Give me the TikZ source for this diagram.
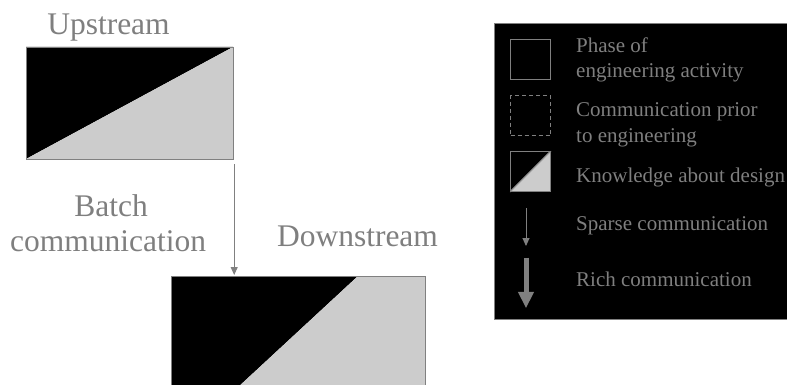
\documentclass[tikz,border=0pt]{standalone}
\usepackage{fontspec}
\setmainfont{Liberation Serif}
\usetikzlibrary{arrows.meta}
\definecolor{txtgray}{HTML}{7F7F7F}
\definecolor{edgegray}{HTML}{808080}
\definecolor{lightfill}{HTML}{CCCCCC}
\tikzset{
  bigtext/.style={text=txtgray, font=\fontsize{31.5}{36}\selectfont, inner sep=0pt, anchor=base},
  legtext/.style={text=txtgray, font=\fontsize{21}{25}\selectfont, inner sep=0pt, anchor=base west},
  boxedge/.style={draw=edgegray, line width=1.2pt},
  sparsearrow/.style={draw=edgegray, line width=0.9pt, -{Triangle[length=8pt,width=7pt]}, color=edgegray},
  richarrow/.style={draw=edgegray, line width=5pt, -{Triangle[length=16.5pt,width=15pt]}, color=edgegray},
}
\begin{document}
\begin{tikzpicture}[x=1pt,y=-1pt]
\useasboundingbox (0,0) rectangle (787,385);
\clip (0,0) rectangle (787,385);
% Upstream phase
\fill[black] (26,47) -- (233,47) -- (26,159) -- cycle;
\fill[lightfill] (26,159) -- (233,47) -- (233,159) -- cycle;
\node[boxedge, rectangle, minimum width=207pt, minimum height=112pt, inner sep=0pt, anchor=north west] (up) at (26,47) {};
\node[bigtext] (uplabel) at (108.5,35) {Upstream};
% Downstream phase
\fill[black] (171,276) -- (358,276) -- (209,414) -- (171,414) -- cycle;
\fill[lightfill] (358,276) -- (425,276) -- (425,414) -- (209,414) -- cycle;
\node[boxedge, rectangle, minimum width=254pt, minimum height=138pt, inner sep=0pt, anchor=north west] (down) at (171,276) {};
\node[bigtext] (downlabel) at (357.5,246.7) {Downstream};
% Batch communication
\draw[sparsearrow] ([yshift=-4pt]up.south east) -- ([yshift=1pt]up.south east |- down.north);
\node[bigtext] (batch1) at (111,216) {Batch};
\node[bigtext] (batch2) at (108,251.7) {communication};
% Legend
\node[draw=edgegray, line width=1.2pt, fill=black, rectangle, minimum width=300pt, minimum height=296pt, inner sep=0pt, anchor=north west] (legend) at (494,23) {};
\node[boxedge, rectangle, minimum size=40pt, inner sep=0pt, anchor=north west] (lphase) at (510,39) {};
\node[legtext] (tphase1) at (576,52.3) {Phase of};
\node[legtext] (tphase2) at (576,77.3) {engineering activity};
\node[draw=edgegray, line width=1.2pt, dashed, dash pattern=on 4pt off 3pt, rectangle, minimum size=40pt, inner sep=0pt, anchor=north west] (lprior) at (510,95) {};
\node[legtext] (tprior1) at (576,116.7) {Communication prior};
\node[legtext] (tprior2) at (576,142.3) {to engineering};
\fill[lightfill] (510,191) -- (550,151) -- (550,191) -- cycle;
\node[boxedge, rectangle, minimum size=40pt, inner sep=0pt, anchor=north west] (lknow) at (510,151) {};
\draw[edgegray, line width=0.6pt] (lknow.south west) -- (lknow.north east);
\node[legtext] (tknow) at (576,182.7) {Knowledge about design};
\coordinate (sparseA) at (526,208);
\coordinate (sparseB) at (526,246);
\draw[sparsearrow] (sparseA) -- (sparseB);
\node[legtext] (tsparse) at (576,230.7) {Sparse communication};
\coordinate (richA) at (526,257.7);
\coordinate (richB) at (526,308.3);
\draw[richarrow] (richA) -- (richB);
\node[legtext] (trich) at (576,286.7) {Rich communication};
\end{tikzpicture}
\end{document}
